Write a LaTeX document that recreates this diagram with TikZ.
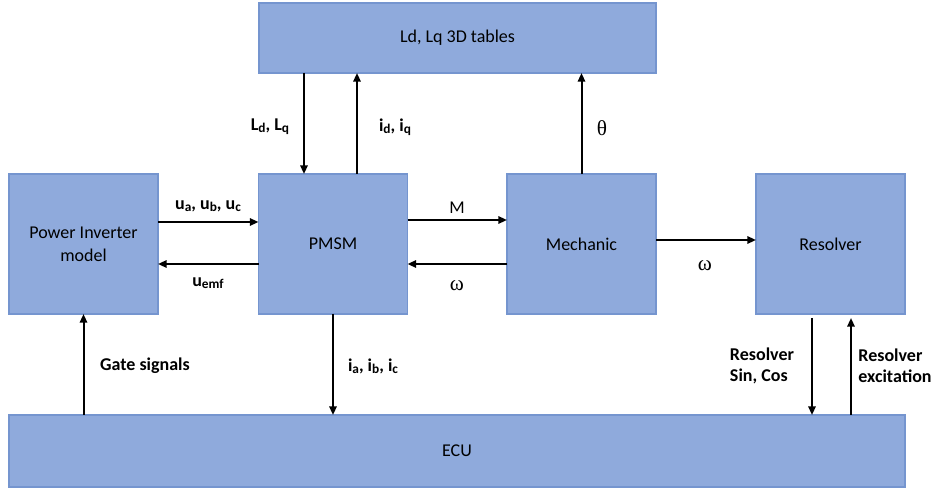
\documentclass[tikz,border=0pt]{standalone}
\usepackage{fontspec}
\setmainfont{Carlito}
\newfontfamily\grkfont{Liberation Serif}
\usepackage{tikz}
\usetikzlibrary{arrows, arrows.meta}
\definecolor{blockfill}{HTML}{8FAADC}
\definecolor{blockline}{HTML}{7595CF}
\newcommand{\lowsub}[1]{\raisebox{-0.25ex}{\fontsize{10}{10}\selectfont #1}}
\tikzset{
    block/.style={draw=blockline, fill=blockfill, line width=0.8pt, inner sep=0pt, outer sep=0pt,
        align=center, font=\fontsize{13.5}{17}\selectfont},
    smallblock/.style={block, minimum width=111.75pt, minimum height=105pt},
    sig/.style={-{Triangle[length=6.5pt,width=5.5pt]}, line width=1.5pt},
    lbl/.style={font=\fontsize{13.5}{16}\selectfont\bfseries, align=left},
    plainlbl/.style={font=\fontsize{13.5}{16}\selectfont},
    greeklbl/.style={font=\fontsize{16}{18}\selectfont\grkfont},
}

\begin{document}
\begin{tikzpicture}[x=0.75pt, y=-0.75pt]
    \useasboundingbox (0,0) rectangle (940,491);
    \node[block, minimum width=297.75pt, minimum height=52.5pt] (tables) at (457.5,38) {Ld, Lq 3D tables};
    \node[smallblock] (inv) at (83.5,244) {Power Inverter\\model};
    \node[smallblock] (pmsm) at (333,244) {PMSM};
    \node[smallblock] (mech) at (581.5,244) {Mechanic};
    \node[smallblock] (res) at (830.5,244) {Resolver};
    \node[block, minimum width=672pt, minimum height=54pt] (ecu) at (457,451) {ECU};

    \coordinate (xldq) at (304,0);
    \coordinate (xidq) at (357,0);
    \coordinate (xsin) at (812,0);
    \coordinate (xexc) at (851,0);
    \coordinate (yuabc) at (0,222);
    \coordinate (ymom) at (0,220);
    \coordinate (yback) at (0,264);
    \coordinate (yspeed) at (0,240);

    \draw[sig] (tables.south -| xldq) -- (pmsm.north -| xldq);
    \draw[sig] (pmsm.north -| xidq) -- (tables.south -| xidq);
    \draw[sig] (mech.north) -- (tables.south -| mech.north);
    \draw[sig] (inv.east |- yuabc) -- (pmsm.west |- yuabc);
    \draw[sig] (pmsm.west |- yback) -- (inv.east |- yback);
    \draw[sig] (pmsm.east |- ymom) -- (mech.west |- ymom);
    \draw[sig] (mech.west |- yback) -- (pmsm.east |- yback);
    \draw[sig] (mech.east |- yspeed) -- (res.west |- yspeed);
    \draw[sig] (ecu.north -| inv.south) -- (inv.south);
    \draw[sig] (pmsm.south) -- (ecu.north -| pmsm.south);
    \draw[sig] ([yshift=-3pt]res.south -| xsin) -- (ecu.north -| xsin);
    \draw[sig] (ecu.north -| xexc) -- ([yshift=-3pt]res.south -| xexc);

    \node[lbl] (lldq) at (270,127) {L\lowsub{d}, L\lowsub{q}};
    \node[lbl] (lidq) at (395,127) {i\lowsub{d}, i\lowsub{q}};
    \node[greeklbl] (ltheta) at (602,128) {θ};
    \node[lbl] (luabc) at (208,206) {u\lowsub{a}, u\lowsub{b}, u\lowsub{c}};
    \node[lbl] (lemf) at (208,283) {u\lowsub{emf}};
    \node[plainlbl] (lmom) at (457,208) {M};
    \node[greeklbl] (lwback) at (457,286) {ω};
    \node[greeklbl] (lwres) at (705,266) {ω};
    \node[lbl] (lgate) at (145,366) {Gate signals};
    \node[lbl] (liabc) at (373,366) {i\lowsub{a}, i\lowsub{b}, i\lowsub{c}};
    \node[lbl] (lsin) at (762,366) {Resolver\\Sin, Cos};
    \node[lbl] (lexc) at (895,366) {Resolver\\excitation};
\end{tikzpicture}
\end{document}
